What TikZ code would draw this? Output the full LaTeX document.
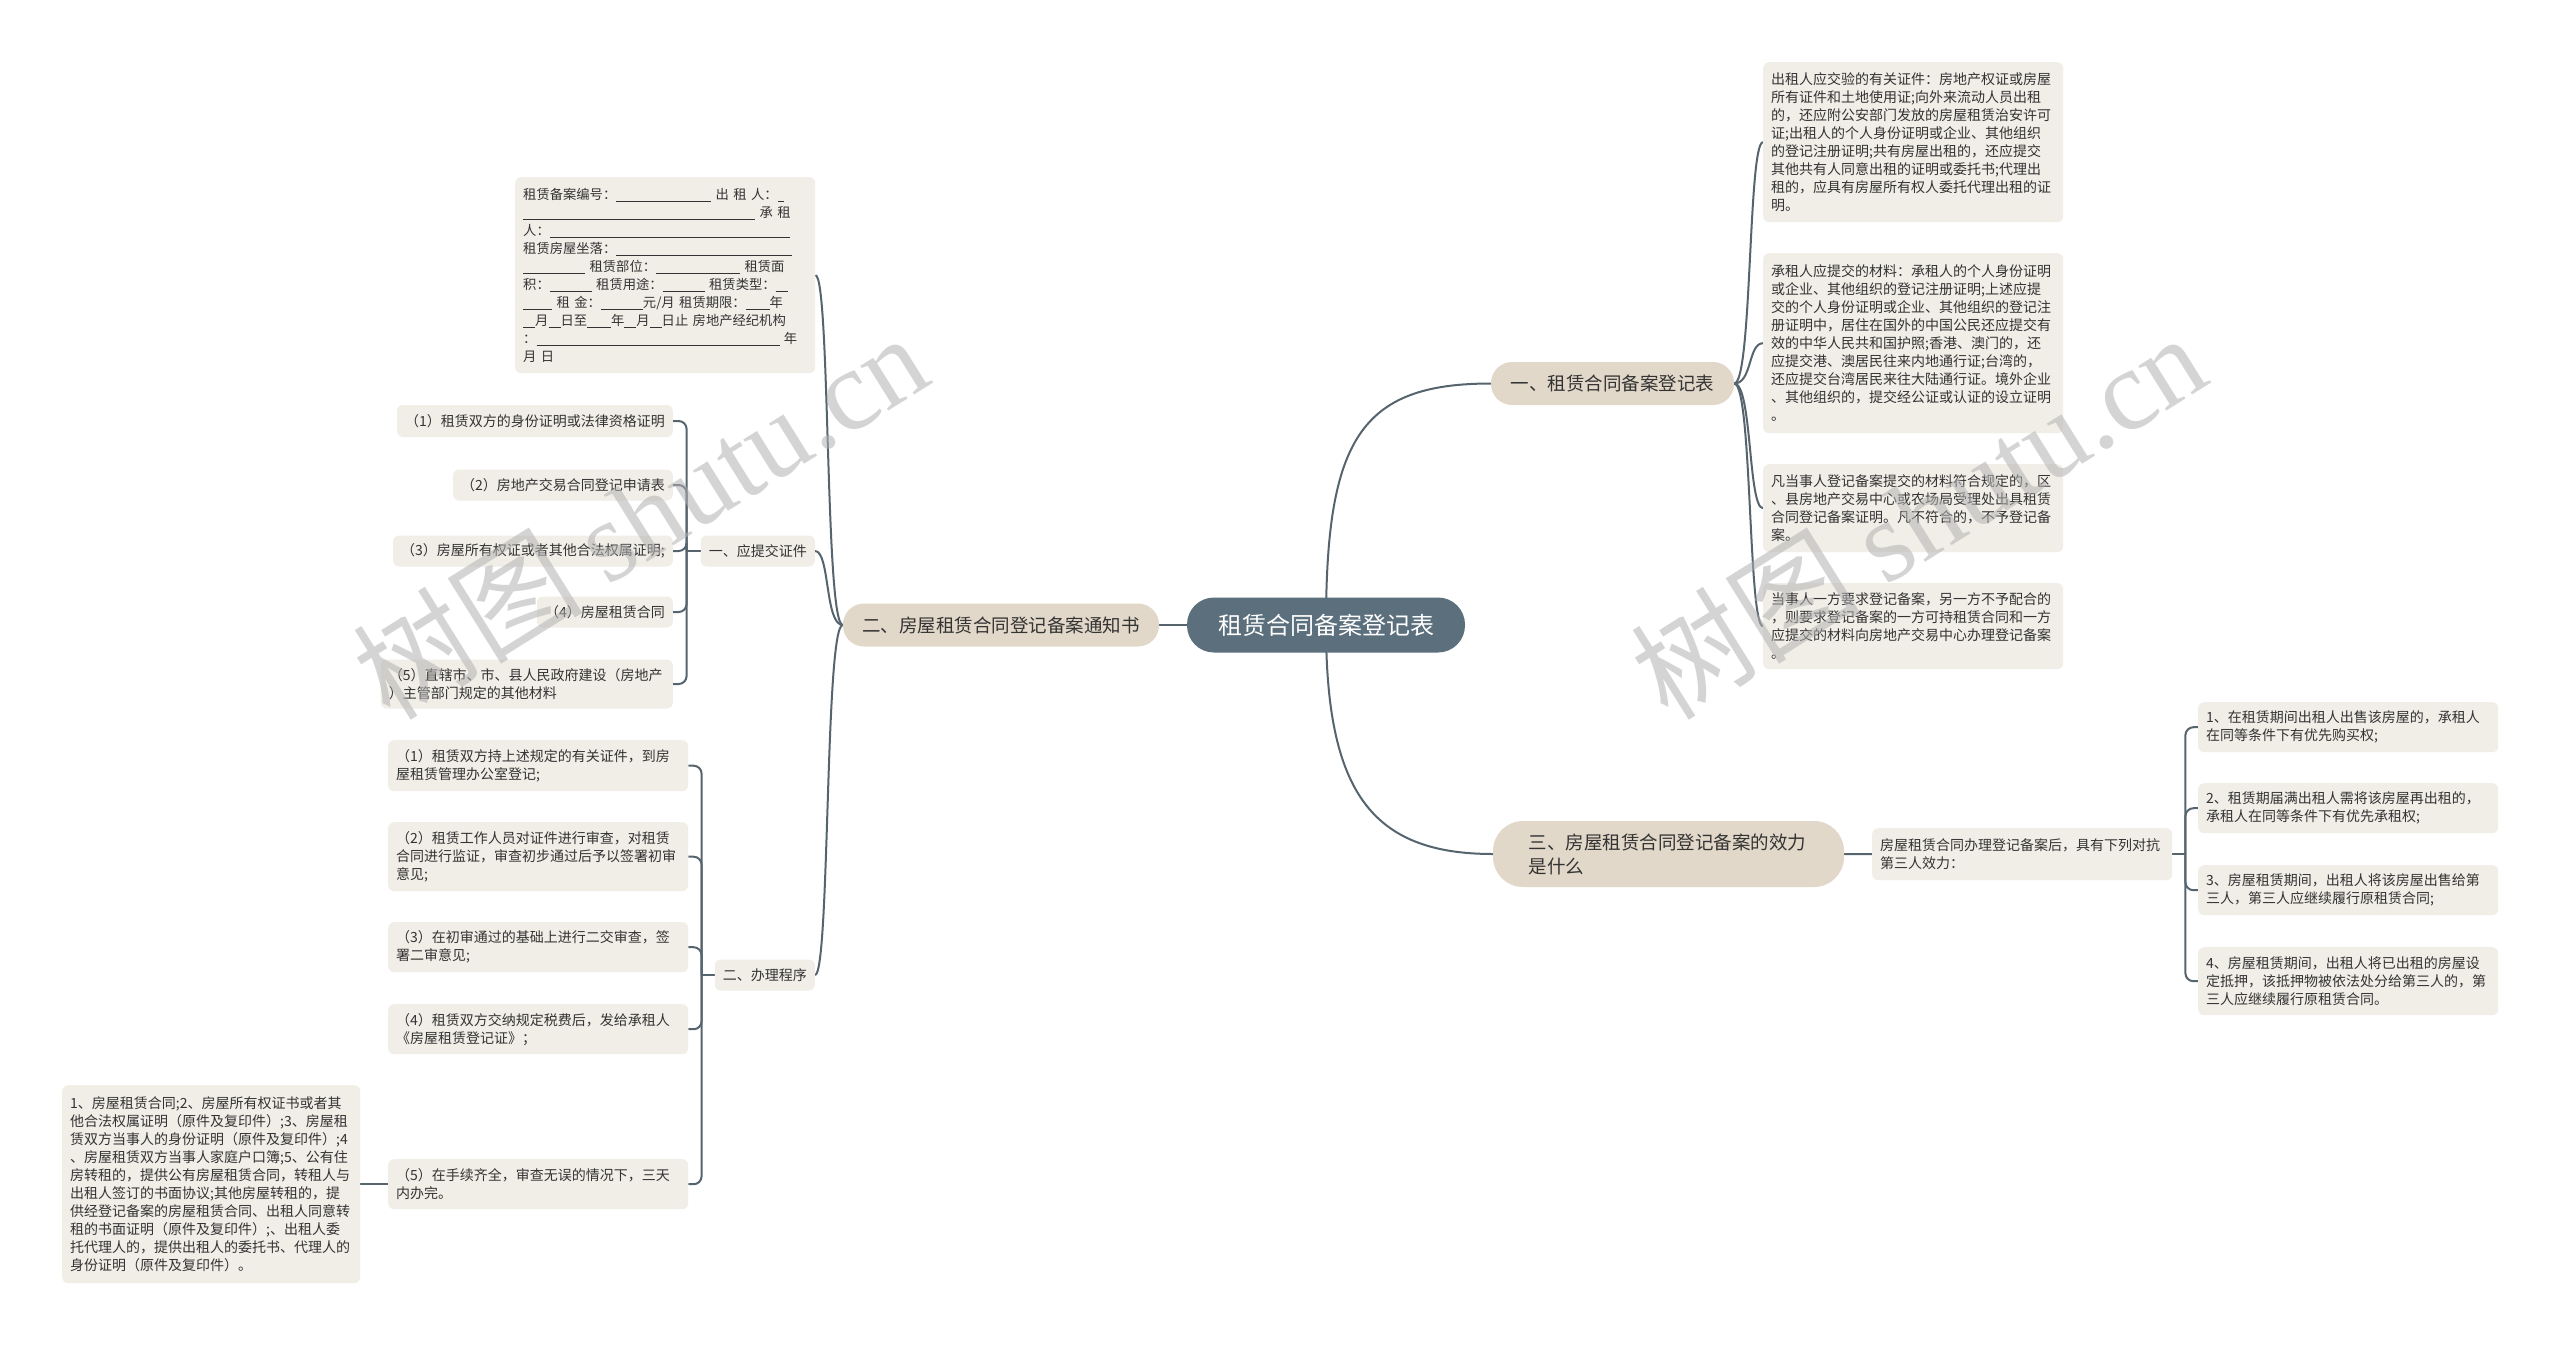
\documentclass[tikz,border=0pt]{standalone}
\usepackage{fontspec}
\setmainfont{Noto Sans CJK SC}
\newfontfamily\wmserif{Liberation Serif}
\usetikzlibrary{backgrounds}
\definecolor{rootc}{HTML}{5B6F7C}
\definecolor{branchc}{HTML}{E2D8C9}
\definecolor{leafc}{HTML}{F1EEE8}
\definecolor{linec}{HTML}{56646E}
\definecolor{txtc}{HTML}{333333}
\newcommand{\ulx}[1]{\rule[-2.5pt]{#1pt}{0.7pt}}
\begin{document}
\begin{tikzpicture}[x=1pt,y=-1pt,
  leaf/.style={fill=leafc, rounded corners=6pt, inner xsep=8pt, inner ysep=0pt, align=left, text=txtc, font=\fontsize{14pt}{18pt}\selectfont},
  leafnw/.style={leaf, anchor=north west, text width=284pt},
  rootnode/.style={fill=rootc, text=white, rounded corners=27pt, minimum width=278pt, minimum height=55pt, inner sep=0pt, font=\fontsize{24pt}{28pt}\selectfont},
  branch/.style={fill=branchc, text=txtc, inner sep=0pt, font=\fontsize{18.5pt}{24pt}\selectfont},
  conn/.style={draw=linec, line width=2pt},
  wm/.style={text=black!30, opacity=0.55, font=\fontsize{115pt}{120pt}\selectfont, inner sep=0pt}]
\useasboundingbox (0,0) rectangle (2560,1345);

% root and branches
\node[rootnode] (root) at (1326,625) {租赁合同备案登记表};
\node[branch, rounded corners=21pt, minimum width=243pt, minimum height=43pt] (b1) at (1612.5,383.5) {一、租赁合同备案登记表};
\node[branch, rounded corners=21pt, minimum width=316pt, minimum height=43pt] (b2) at (1001,625) {二、房屋租赁合同登记备案通知书};
\node[branch, rounded corners=30pt, minimum width=351pt, minimum height=66pt, align=left, text width=280pt] (b3) at (1668.5,854) {三、房屋租赁合同登记备案的效力\\是什么};

% right side: branch 1 children
\node[leafnw, minimum height=160pt] (ra) at (1763,62) {出租人应交验的有关证件：房地产权证或房屋\\所有证件和土地使用证;向外来流动人员出租\\的，还应附公安部门发放的房屋租赁治安许可\\证;出租人的个人身份证明或企业、其他组织\\的登记注册证明;共有房屋出租的，还应提交\\其他共有人同意出租的证明或委托书;代理出\\租的，应具有房屋所有权人委托代理出租的证\\明。};
\node[leafnw, minimum height=180pt] (rb) at (1763,253) {承租人应提交的材料：承租人的个人身份证明\\或企业、其他组织的登记注册证明;上述应提\\交的个人身份证明或企业、其他组织的登记注\\册证明中，居住在国外的中国公民还应提交有\\效的中华人民共和国护照;香港、澳门的，还\\应提交港、澳居民往来内地通行证;台湾的，\\还应提交台湾居民来往大陆通行证。境外企业\\、其他组织的，提交经公证或认证的设立证明\\。};
\node[leafnw, minimum height=88pt] (rc) at (1763,464) {凡当事人登记备案提交的材料符合规定的，区\\、县房地产交易中心或农场局受理处出具租赁\\合同登记备案证明。凡不符合的，不予登记备\\案。};
\node[leafnw, minimum height=86pt] (rd) at (1763,583) {当事人一方要求登记备案，另一方不予配合的\\，则要求登记备案的一方可持租赁合同和一方\\应提交的材料向房地产交易中心办理登记备案\\。};

% branch 3 children
\node[leafnw, minimum height=52pt] (bc) at (1872,828) {房屋租赁合同办理登记备案后，具有下列对抗\\第三人效力：};
\node[leafnw, minimum height=50pt] (e1) at (2198,702) {1、在租赁期间出租人出售该房屋的，承租人\\在同等条件下有优先购买权;};
\node[leafnw, minimum height=50pt] (e2) at (2198,783) {2、租赁期届满出租人需将该房屋再出租的，\\承租人在同等条件下有优先承租权;};
\node[leafnw, minimum height=50pt] (e3) at (2198,865) {3、房屋租赁期间，出租人将该房屋出售给第\\三人，第三人应继续履行原租赁合同;};
\node[leafnw, minimum height=68pt] (e4) at (2198,947) {4、房屋租赁期间，出租人将已出租的房屋设\\定抵押，该抵押物被依法处分给第三人的，第\\三人应继续履行原租赁合同。};

% left side: branch 2 children
\node[leafnw, minimum height=196pt, font=\fontsize{13.3pt}{18pt}\selectfont] (bt) at (515,177) {租赁备案编号：\ulx{95} 出 租 人：\ulx{6}\\\ulx{232} 承 租\\人：\ulx{240}\\租赁房屋坐落：\ulx{176}\\\ulx{62} 租赁部位：\ulx{84} 租赁面\\积：\ulx{42} 租赁用途：\ulx{42} 租赁类型：\ulx{12}\\\ulx{29} 租 金：\ulx{42}元/月 租赁期限：\ulx{24}年\\\ulx{12}月\ulx{12}日至\ulx{24}年\ulx{12}月\ulx{12}日止 房地产经纪机构\\：\ulx{243} 年\\月 日};
\node[leaf, anchor=east, minimum height=31pt] (s1) at (815,551) {一、应提交证件};
\node[leaf, anchor=east, minimum height=31pt] (s2) at (815,975) {二、办理程序};

% children of s1
\node[leaf, anchor=east, minimum height=32pt] (p1) at (673,421) {（1）租赁双方的身份证明或法律资格证明};
\node[leaf, anchor=east, minimum height=31pt] (p2) at (673,485) {（2）房地产交易合同登记申请表};
\node[leaf, anchor=east, minimum height=31pt] (p3) at (673,551) {（3）房屋所有权证或者其他合法权属证明;};
\node[leaf, anchor=east, minimum height=31pt] (p4) at (673,612) {（4）房屋租赁合同};
\node[leaf, anchor=east, minimum height=49pt, text width=276pt] (p5) at (673,684) {（5）直辖市、市、县人民政府建设（房地产\\）主管部门规定的其他材料};

% children of s2
\node[leafnw, minimum height=51pt] (q1) at (388,740) {（1）租赁双方持上述规定的有关证件，到房\\屋租赁管理办公室登记;};
\node[leafnw, minimum height=69pt] (q2) at (388,822) {（2）租赁工作人员对证件进行审查，对租赁\\合同进行监证，审查初步通过后予以签署初审\\意见;};
\node[leafnw, minimum height=50pt] (q3) at (388,922) {（3）在初审通过的基础上进行二交审查，签\\署二审意见;};
\node[leafnw, minimum height=50pt] (q4) at (388,1004) {（4）租赁双方交纳规定税费后，发给承租人\\《房屋租赁登记证》；};
\node[leafnw, minimum height=50pt] (q5) at (388,1159) {（5）在手续齐全，审查无误的情况下，三天\\内办完。};
\node[leafnw, minimum height=198pt, text width=282pt] (big) at (62,1085) {1、房屋租赁合同;2、房屋所有权证书或者其\\他合法权属证明（原件及复印件）;3、房屋租\\赁双方当事人的身份证明（原件及复印件）;4\\、房屋租赁双方当事人家庭户口簿;5、公有住\\房转租的，提供公有房屋租赁合同，转租人与\\出租人签订的书面协议;其他房屋转租的，提\\供经登记备案的房屋租赁合同、出租人同意转\\租的书面证明（原件及复印件）;、出租人委\\托代理人的，提供出租人的委托书、代理人的\\身份证明（原件及复印件）。};

\begin{pgfonlayer}{background}
\fill[white] (0,0) rectangle (2560,1345);
% root connectors
\draw[conn] (root.center) .. controls (1326,440) and (1360,383.5) .. (b1.west);
\draw[conn] (root.center) .. controls (1326,790) and (1370,854) .. (b3.west);
\draw[conn] (root.center) -- (b2.east);
% branch 1 to children
\foreach \c in {ra,rb,rc,rd}
  \draw[conn] (b1.east) .. controls +(18,0) and +(-15,0) .. (\c.west);
% branch 2 to children
\foreach \c in {bt,s1,s2}
  \draw[conn] (b2.west) .. controls +(-18,0) and +(15,0) .. (\c.east);
% branch 3
\draw[conn] (b3.east) -- (bc.west);
\draw[conn] (bc.east) -- ++(13,0) coordinate (j3);
\foreach \c in {e1,e2,e3,e4}
  \draw[conn, rounded corners=8pt] (j3) |- (\c.west);
% s1 bracket
\draw[conn] (s1.west) -- ++(-14,0) coordinate (j1);
\foreach \c in {p1,p2,p3,p4,p5}
  \draw[conn, rounded corners=8pt] (j1) |- (\c.east);
% s2 bracket
\draw[conn] (s2.west) -- ++(-13,0) coordinate (j2);
\foreach \c in {q1,q2,q3,q4,q5}
  \draw[conn, rounded corners=8pt] (j2) |- (\c.east);
\draw[conn] (q5.west) -- (big.east);
\end{pgfonlayer}

% watermarks
\node[wm, rotate=32] (wm1) at (640,515) {树图 {\wmserif shutu.cn}};
\node[wm, rotate=32] (wm2) at (1918,515) {树图 {\wmserif shutu.cn}};
\end{tikzpicture}
\end{document}
